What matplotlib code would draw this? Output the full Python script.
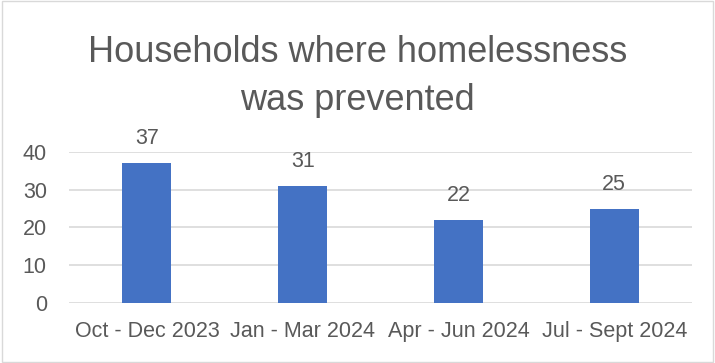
import matplotlib.pyplot as plt
from matplotlib.patches import Rectangle

periods = ['Oct - Dec 2023', 'Jan - Mar 2024', 'Apr - Jun 2024', 'Jul - Sept 2024']
households = [37, 31, 22, 25]
y_ticks = [0, 10, 20, 30, 40]

text_color = '#595959'
bar_color = '#4472C4'
grid_color = '#D9D9D9'

plt.rcParams['font.family'] = ['Liberation Sans', 'DejaVu Sans']

fig = plt.figure(figsize=(7.15, 3.63), dpi=100)
ax = fig.add_axes([0.0965, 0.1653, 0.8715, 0.416])

x = list(range(len(periods)))
bars = ax.bar(x, households, width=0.315, color=bar_color, zorder=3)
for xi, v in zip(x, households):
    ax.annotate(str(v), (xi, v), xytext=(0, 10), textcoords='offset points',
                ha='center', va='bottom', fontsize=15.5, color=text_color)

ax.set_xlim(-0.5, len(periods) - 0.5)
ax.set_ylim(0, 40)
ax.set_yticks(y_ticks)
ax.set_xticks(x)
ax.set_xticklabels(periods)
ax.tick_params(axis='both', length=0, labelsize=15.5, labelcolor=text_color)
ax.tick_params(axis='y', pad=16)
ax.tick_params(axis='x', pad=13)
ax.grid(axis='y', color=grid_color, linewidth=1.2, zorder=0)
for s in ax.spines.values():
    s.set_visible(False)

fig.text(0.5, 0.856, 'Households where homelessness', ha='center', va='center',
         fontsize=26, color=text_color)
fig.text(0.5, 0.724, 'was prevented', ha='center', va='center',
         fontsize=26, color=text_color)

fig.patches.append(Rectangle((0.003, 0.003), 0.994, 0.994, transform=fig.transFigure,
                             fill=False, edgecolor='#D9D9D9', linewidth=1))

fig.savefig('out.png', dpi=100)
